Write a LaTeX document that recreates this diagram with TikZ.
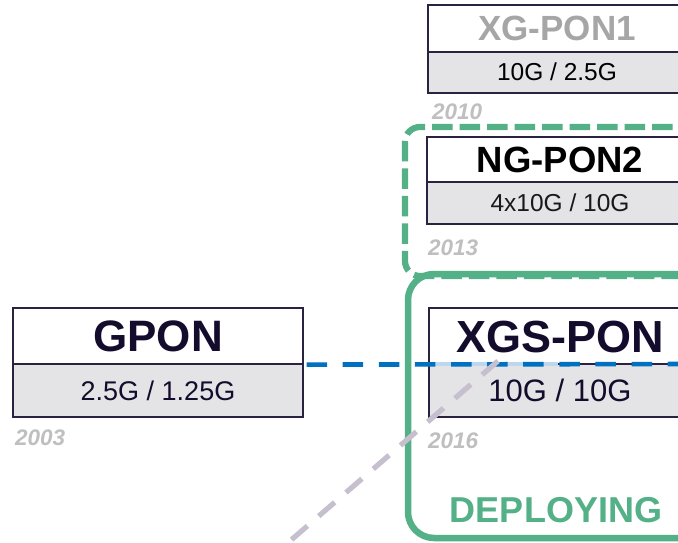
\documentclass[tikz,border=0pt]{standalone}
\usepackage{fontspec}
\setmainfont{Liberation Sans}
\definecolor{cellline}{HTML}{2B2140}
\definecolor{cellgray}{HTML}{E4E4E6}
\definecolor{navytext}{HTML}{140C2C}
\definecolor{fadedtext}{HTML}{A6A6A6}
\definecolor{yeargray}{HTML}{BFBFBF}
\definecolor{deploygreen}{HTML}{53B087}
\definecolor{linkblue}{HTML}{0070C0}
\definecolor{linkpale}{HTML}{BDD7EE}
\definecolor{slashgray}{HTML}{C6BFCD}
\newcommand{\fsz}[1]{\fontsize{#1}{#1}\selectfont}
\tikzset{
  cellbase/.style={draw=cellline, line width=1.2pt, inner sep=0pt, text depth=0pt},
  namecell/.style={cellbase, fill=white},
  ratecell/.style={cellbase, fill=cellgray},
  yearlabel/.style={anchor=base west, inner sep=0pt, text=yeargray,
    font=\fsz{22.5}\bfseries\itshape},
  groupframe/.style={draw=deploygreen, line width=6.5pt},
  candidateframe/.style={draw=deploygreen, line width=6.2pt, dash pattern=on 20.5pt off 7pt},
  migration/.style={draw=linkblue, line width=4.6pt, dash pattern=on 20.5pt off 15.6pt},
  overlay link/.style={draw=slashgray, line width=5.2pt, dash pattern=on 21pt off 15pt},
}
\begin{document}
\begin{tikzpicture}[x=1pt, y=-1pt]
\path[use as bounding box, fill=white] (0,0) rectangle (678,543);
\clip (0,0) rectangle (678,543);

% grouping frames
\draw[candidateframe, rounded corners=15pt] (700,127) -- (405,127) -- (405,276) -- (700,276);
\draw[groupframe, rounded corners=26pt] (700,274) -- (408,274) -- (408,538) -- (700,538);

% XG-PON1
\node[ratecell, minimum width=258pt, minimum height=41pt, text height=17pt,
      font=\fsz{24.5}, text=black] (xgpRate) at (557,72.5) {10G / 2.5G};
\node[namecell, minimum width=258pt, minimum height=47pt, text height=25pt,
      font=\fsz{35}\bfseries, text=fadedtext] (xgpName) at (557,28.5) {XG-PON1};
\node[yearlabel] (xgpYear) at (432,120) {2010};

% NG-PON2
\node[ratecell, minimum width=266pt, minimum height=42pt, text height=17pt,
      font=\fsz{24.5}, text=black!90] (ngpRate) at (560,203) {4x10G / 10G};
\node[namecell, minimum width=266pt, minimum height=45pt, text height=26pt,
      font=\fsz{36.5}\bfseries, text=black] (ngpName) at (560,159.5) {NG-PON2};
\node[yearlabel] (ngpYear) at (428,255) {2013};

% XGS-PON
\node[ratecell, minimum width=262pt, minimum height=53pt, text height=22pt,
      font=\fsz{31}, text=navytext] (xgsRate) at (560,390.5) {10G / 10G};
\node[namecell, minimum width=262pt, minimum height=56pt, text height=32pt,
      font=\fsz{45}\bfseries, text=navytext] (xgsName) at (560,336) {XGS-PON};
\node[yearlabel] (xgsYear) at (428,448) {2016};

% GPON
\node[ratecell, minimum width=290pt, minimum height=53pt, text height=19pt,
      font=\fsz{27}, text=navytext] (gponRate) at (158,390.5) {2.5G / 1.25G};
\node[namecell, minimum width=290pt, minimum height=56pt, text height=31.5pt,
      font=\fsz{44}\bfseries, text=navytext] (gponName) at (158,336) {GPON};
\node[yearlabel] (gponYear) at (15,445) {2003};

\node[anchor=base, inner sep=0pt, text=deploygreen, font=\fsz{36}\bfseries]
  (deploying) at (556,522) {DEPLOYING};

% migration path GPON -> XGS-PON
\coordinate (paleStart) at (431,364);
\coordinate (paleEnd) at (558,364);
\coordinate (migrationEnd) at (700,364);
\draw[draw=linkpale, line width=4.6pt] (paleStart) -- (paleEnd);
\draw[migration] ([xshift=3pt]gponName.south east) -- (migrationEnd);

% diagonal overlay line
\coordinate (slashTop) at (498,361);
\coordinate (slashFoot) at (268,560);
\draw[overlay link] (slashTop) -- (slashFoot);
\end{tikzpicture}
\end{document}
